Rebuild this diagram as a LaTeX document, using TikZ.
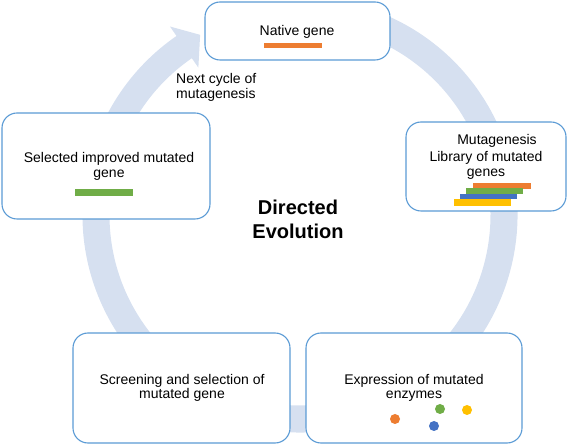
\documentclass[tikz,border=0pt]{standalone}
\usepackage{fontspec}
\setmainfont{Liberation Sans}
\definecolor{boxblue}{RGB}{91,155,213}
\definecolor{ringblue}{RGB}{214,224,240}
\definecolor{geneorange}{RGB}{237,125,49}
\definecolor{genegreen}{RGB}{112,173,71}
\definecolor{geneblue}{RGB}{68,114,196}
\definecolor{geneyellow}{RGB}{255,192,0}
\tikzset{%
  stage box/.style={draw=boxblue,line width=1.1pt,fill=white,
    rounded corners=15pt,inner sep=0pt,outer sep=0pt},%
  stage text/.style={font=\fontsize{14}{14.5}\selectfont,align=center,
    inner sep=0pt},%
  enzyme dot/.style={circle,inner sep=0pt,minimum size=10pt}%
}

\begin{document}
\begin{tikzpicture}[x=1pt,y=1pt] % directed evolution cycle

\useasboundingbox (0,0) rectangle (567,444);

\def\R{204} % ring radius
\def\W{13.5} % half width of the ring
\def\B{25} % half width of the arrow head
\def\tail{75} % start of the ring
\def\head{-235.4} % base of the arrow head
\def\tip{-241} % tip of the arrow head

% the big cycle arrow
\begin{scope}[shift={(300,229)}]
\fill[ringblue] (\tail:\R+\W) arc[start angle=\tail,end angle=\head,radius=\R+\W]
  -- (\head:\R+\B) -- (\tip:\R+2) -- (\head:\R-\B)
  -- (\head:\R-\W) arc[start angle=\head,end angle=\tail,radius=\R-\W] -- cycle;
\end{scope}

% the five stages
\node[stage box,minimum width=185pt,minimum height=58pt] (native) at (297.5,413) {};
\node[stage box,minimum width=160pt,minimum height=89pt] (library) at (486,277.5) {};
\node[stage box,minimum width=216pt,minimum height=110pt] (expression) at (414,56) {};
\node[stage box,minimum width=217pt,minimum height=110pt] (screening) at (181.5,56) {};
\node[stage box,minimum width=208pt,minimum height=106pt] (selected) at (106,278) {};

\node[stage text] (nativetext) at (297,412.5) {Native gene};
\fill[geneorange] (264,396) rectangle (322,401);

\node[stage text] (mutagenesis) at (497,303.5) {Mutagenesis};
\node[stage text] (librarytext) at (486,278.5) {Library of mutated\\genes};
\fill[geneorange] (473,255) rectangle (531,260.7);
\fill[genegreen] (466,250) rectangle (523,255.7);
\fill[geneblue] (460,244.7) rectangle (517,250);
\fill[geneyellow] (454,238.3) rectangle (511,244.7);

\node[stage text] (expressiontext) at (414,56) {Expression of mutated\\enzymes};
\node[enzyme dot,fill=genegreen] (dotgreen) at (440,35) {};
\node[enzyme dot,fill=geneyellow] (dotyellow) at (467,34) {};
\node[enzyme dot,fill=geneorange] (dotorange) at (395,25) {};
\node[enzyme dot,fill=geneblue] (dotblue) at (434,18) {};

\node[stage text] (screeningtext) at (182,56) {Screening and selection of\\mutated gene};

\node[stage text] (selectedtext) at (109,277.5) {Selected improved mutated\\gene};
\fill[genegreen] (75,248) rectangle (133,255);

\node[stage text,align=left,anchor=west] (nextcycle) at (176,356.5) {Next cycle of\\mutagenesis};

\node[font=\fontsize{20}{24}\selectfont\bfseries,align=center,inner sep=0pt]
  (title) at (298,225) {Directed\\Evolution};

\end{tikzpicture}
\end{document}
